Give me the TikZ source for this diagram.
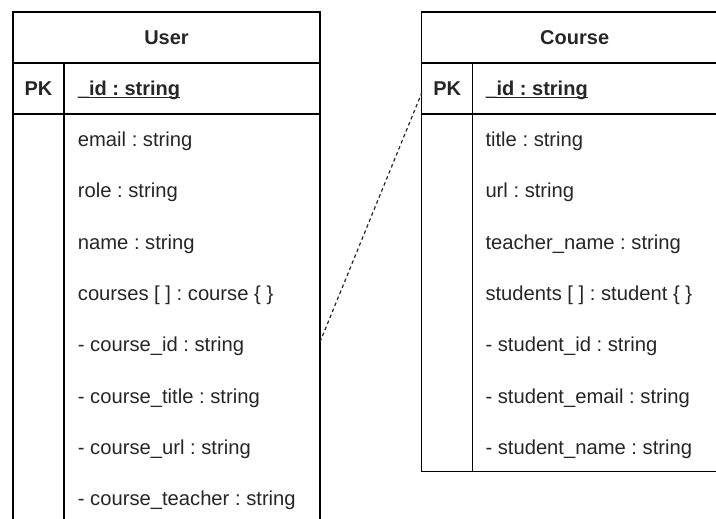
\documentclass[tikz,border=0pt]{standalone}
\usepackage{fontspec}
\setmainfont{Liberation Sans}
\frenchspacing
\newcommand\pkul[1]{\setbox0\hbox{#1}\rlap{\rule[-2.6pt]{\wd0}{1.3pt}}\box0}
\begin{document}
\frenchspacing
\begin{tikzpicture}[x=1pt,y=-1pt,
  tbl/.style={draw=black, line width=1.3pt, fill=white, inner sep=0pt, outer sep=0pt, anchor=north west},
  tline/.style={draw=black, line width=1.3pt},
  attr/.style={anchor=base west, inner sep=0pt, font=\fontsize{20.2}{24}\selectfont\frenchspacing, text=black!85},
  hdr/.style={anchor=base, inner sep=0pt, font=\fontsize{20}{24}\selectfont\bfseries\frenchspacing, text=black!85},
  pkcol/.style={anchor=base, inner sep=0pt, font=\fontsize{20}{24}\selectfont\bfseries, text=black!85},
  pkname/.style={anchor=base west, inner sep=0pt, font=\fontsize{20}{24}\selectfont\bfseries\frenchspacing, text=black!85},
  rel/.style={draw=black!85, line width=1.2pt, dash pattern=on 3.5pt off 3pt}]
\useasboundingbox (0,0) rectangle (716,519);
\clip (0,0) rectangle (716,519);
% tables
\node[tbl, minimum width=307pt, minimum height=530pt] (user) at (13,12) {};
\node[tbl, minimum width=320pt, minimum height=459.7pt] (course) at (421.7,12) {};
% User internals
\draw[tline] (13,63) -- (320,63);
\draw[tline] (13,114) -- (320,114);
\draw[tline] (64,63) -- (64,545);
% Course internals
\draw[tline] (421.7,63) -- (745,63);
\draw[tline] (421.7,114) -- (745,114);
\draw[tline] (472.7,63) -- (472.7,471.7);
% User texts
\node[hdr] (user-title) at (166.5,44.5) {User};
\node[pkcol] (user-pk) at (38.5,95.5) {PK};
\node[pkname] (user-id) at (77.7,95.5) {\pkul{\_id : string}};
\node[attr] (u1) at (77.7,146.5) {email : string};
\node[attr] (u2) at (77.7,197.8) {role : string};
\node[attr] (u3) at (77.7,249.1) {name : string};
\node[attr] (u4) at (77.7,300.4) {courses [ ] : course \{ \}};
\node[attr] (u5) at (77.7,351.7) {- course\_id : string};
\node[attr] (u6) at (77.7,403.0) {- course\_title : string};
\node[attr] (u7) at (77.7,454.3) {- course\_url : string};
\node[attr] (u8) at (77.7,505.6) {- course\_teacher : string};
% Course texts
\node[hdr] (course-title) at (574.7,44.5) {Course};
\node[pkcol] (course-pk) at (447.2,95.5) {PK};
\node[pkname] (course-id) at (485.3,95.5) {\pkul{\_id : string}};
\node[attr] (c1) at (485.3,146.5) {title : string};
\node[attr] (c2) at (485.3,197.8) {url : string};
\node[attr] (c3) at (485.3,249.1) {teacher\_name : string};
\node[attr] (c4) at (485.3,300.4) {students [ ] : student \{ \}};
\node[attr] (c5) at (485.3,351.7) {- student\_id : string};
\node[attr] (c6) at (485.3,403.0) {- student\_email : string};
\node[attr] (c7) at (485.3,454.3) {- student\_name : string};
% relation
\coordinate (rel-u) at (user.east |- 0,342);
\coordinate (rel-c) at (course.west |- 0,93);
\draw[rel] (rel-u) -- (rel-c);
\end{tikzpicture}
\end{document}
